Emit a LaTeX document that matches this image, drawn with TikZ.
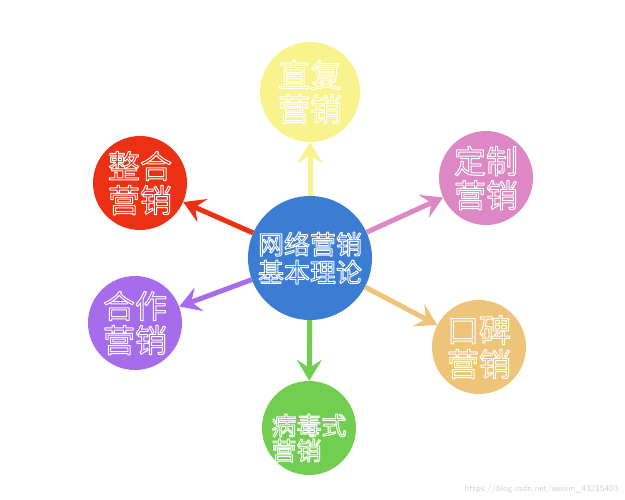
\documentclass[tikz,border=0pt]{standalone}
\usepackage{fontspec}
\newfontfamily\cjk{Noto Sans CJK SC}
\usetikzlibrary{positioning, arrows.meta}
\definecolor{hubblue}{RGB}{60,125,212}
\definecolor{yel}{RGB}{248,243,140}
\definecolor{red}{RGB}{236,48,20}
\definecolor{pink}{RGB}{221,135,196}
\definecolor{purple}{RGB}{166,108,236}
\definecolor{orange}{RGB}{237,196,122}
\definecolor{green}{RGB}{114,206,80}
% outlined text: fill in the text colour, white stroke round it
\newcommand{\outl}[1]{\special{pdf:literal direct 2 Tr 1.0 w 1 1 1 RG 1 j}#1\special{pdf:literal direct 0 Tr}}
\tikzstyle{hub}=[circle, minimum size=124pt, inner sep=0pt, fill=hubblue, text=hubblue, align=center, font=\cjk\fontsize{26}{28}\selectfont]
\tikzstyle{leaf}=[circle, minimum size=94pt, inner sep=0pt, align=center, font=\cjk\fontsize{32}{34}\selectfont]
\tikzstyle{arr}=[line width=5pt, -{Stealth[length=21pt, width=25pt, inset=8pt]}]

\begin{document}
\begin{tikzpicture}[x=1pt, y=-1pt]
            \useasboundingbox (0,0) rectangle (625,500);
            %hub and the six ways around it
            \node[hub](hub) at (310,258){\outl{网络营销}\\\outl{基本理论}};
            \node[leaf, minimum size=100pt, fill=yel, text=yel](top) at (310,92){\outl{直复}\\\outl{营销}};
            \node[leaf, fill=red, text=red](zh) at (140,183){\outl{整合}\\\outl{营销}};
            \node[leaf, fill=pink, text=pink](dz) at (486,178){\outl{定制}\\\outl{营销}};
            \node[leaf, fill=purple, text=purple](hz) at (135,323){\outl{合作}\\\outl{营销}};
            \node[leaf, fill=orange, text=orange](kb) at (479,347){\outl{口碑}\\\outl{营销}};
            \node[leaf, fill=green, text=green, align=left,
                label={[green, align=left, font=\cjk\fontsize{25}{25}\selectfont, yshift=-10pt]center:{\outl{病毒式}\\\outl{营销}}}](bd) at (309,428){};
            \foreach \n/\c in {top/yel, zh/red, dz/pink, hz/purple, kb/orange, bd/green}{
                \draw[arr, \c] (hub) -- (\n);
            }
            \node[anchor=south east, text=black!18, font=\sffamily\fontsize{9}{10}\selectfont](wm) at (622,497){https://blog.csdn.net/weixin\_43215403};
        \end{tikzpicture}
\end{document}
